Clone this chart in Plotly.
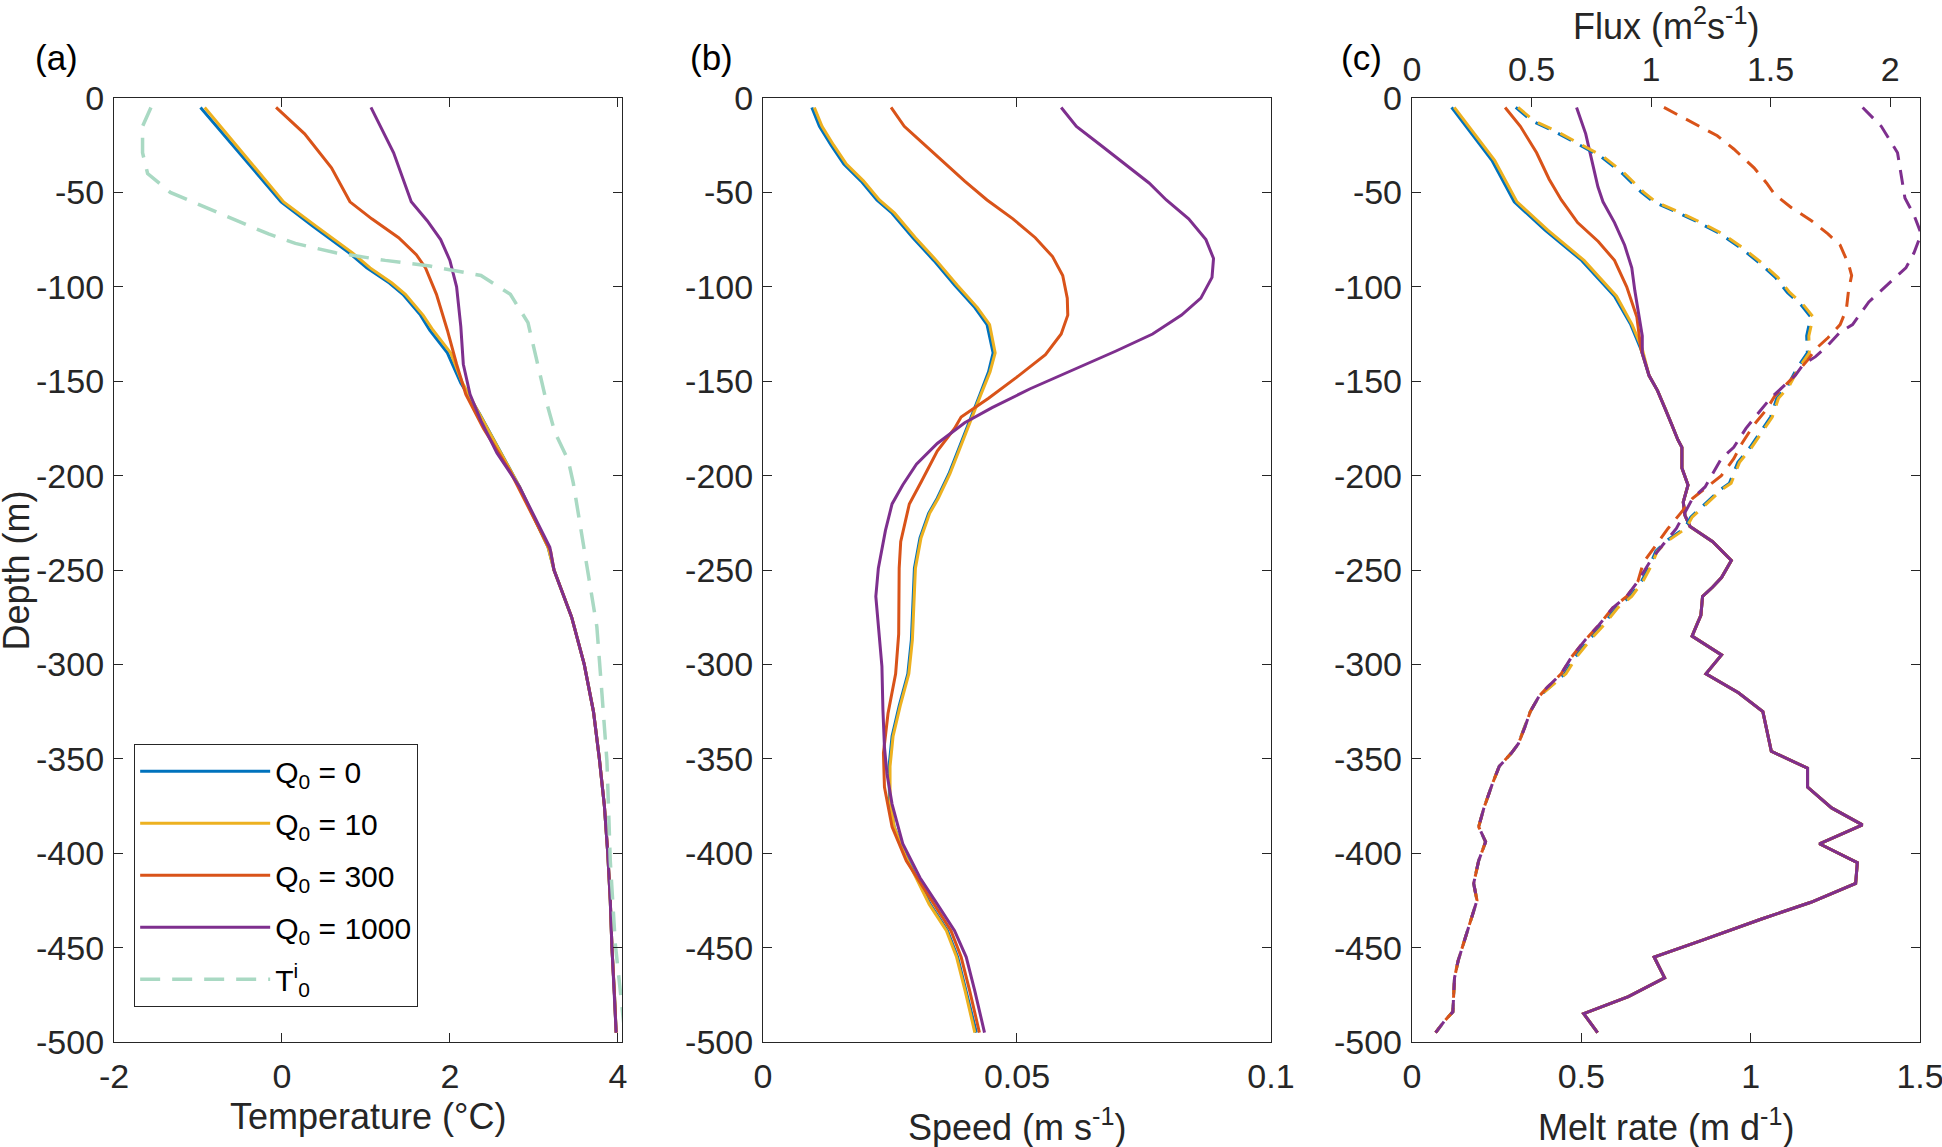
import plotly.graph_objects as go

# ---- panel (a): temperature profiles ----
temp_depth_q0 = [-5, -55, -68, -82, -90, -98, -104, -115, -123, -135, -151]
temp_q0 = [-0.97, -0.01, 0.37, 0.80, 1.01, 1.28, 1.44, 1.65, 1.76, 1.97, 2.13]
temp_q10 = [-0.92, 0.02, 0.41, 0.84, 1.05, 1.31, 1.47, 1.68, 1.80, 2.01, 2.15]

temp_depth_q300 = [-5, -19, -37, -55, -64, -74, -83, -90, -104, -123, -141, -157, -175, -198, -240]
temp_q300 = [-0.07, 0.27, 0.59, 0.81, 1.07, 1.39, 1.60, 1.71, 1.84, 1.97, 2.08, 2.19, 2.40, 2.72, 3.20]

temp_depth_q1000 = [-5, -29, -55, -65, -75, -86, -100, -121, -141, -157, -171, -188, -206, -238]
temp_q1000 = [1.06, 1.33, 1.54, 1.73, 1.89, 2.00, 2.08, 2.13, 2.16, 2.24, 2.37, 2.56, 2.83, 3.19]

# deep part shared by all four runs
temp_depth_deep = [-250, -275, -300, -325, -350, -375, -400, -425, -450, -475, -495]
temp_deep = [3.24, 3.45, 3.60, 3.71, 3.78, 3.84, 3.88, 3.91, 3.93, 3.96, 3.98]
temp_depth_mid = [-167, -184, -206, -238]
temp_mid = [2.35, 2.56, 2.83, 3.17]

t0_depth = [-5, -15, -29, -40, -50, -57, -64, -72, -77, -82, -86, -89, -94, -104, -119, -141,
            -161, -177, -192, -204, -232, -250, -280, -315, -351, -377, -404, -448, -474, -490]
t0_temp = [-1.56, -1.66, -1.66, -1.60, -1.33, -0.96, -0.59, -0.16, 0.16, 0.64, 1.23, 1.76, 2.37, 2.72, 2.93, 3.04,
           3.15, 3.25, 3.41, 3.47, 3.57, 3.64, 3.75, 3.81, 3.87, 3.89, 3.91, 3.97, 4.03, 4.07]

# ---- panel (b): speed profiles ----
speed_depth_q0 = [-5, -15, -25, -35, -44, -54, -61, -74, -86, -99, -111, -120, -135, -145, -157, -173, -187,
                  -199, -212, -220, -233, -249, -287, -305, -322, -338, -354, -372, -386, -402, -427, -441,
                  -455, -473, -495]
speed_q0 = [0.0096, 0.0111, 0.0134, 0.0159, 0.0193, 0.0224, 0.0254, 0.0295, 0.0336, 0.0377, 0.0417, 0.0441,
            0.0453, 0.0444, 0.0427, 0.0404, 0.0383, 0.0366, 0.0343, 0.0326, 0.0309, 0.0298, 0.0292, 0.0285,
            0.0268, 0.0254, 0.0248, 0.0249, 0.0258, 0.0282, 0.0329, 0.0363, 0.0383, 0.0400, 0.0420]
speed_q10 = [0.0101, 0.0116, 0.0139, 0.0164, 0.0198, 0.0229, 0.0259, 0.0300, 0.0341, 0.0382, 0.0422, 0.0446,
             0.0457, 0.0447, 0.0429, 0.0406, 0.0385, 0.0368, 0.0345, 0.0328, 0.0311, 0.0300, 0.0294, 0.0287,
             0.0270, 0.0256, 0.0250, 0.0250, 0.0258, 0.0281, 0.0327, 0.0361, 0.0381, 0.0398, 0.0417]

speed_depth_q300 = [-5, -15, -24, -34, -44, -54, -64, -74, -84, -94, -106, -115, -125, -136, -148, -159, -169,
                    -175, -187, -203, -215, -235, -249, -284, -305, -326, -347, -365, -386, -404, -427, -441,
                    -455, -473, -495]
speed_q300 = [0.0252, 0.0278, 0.0315, 0.0356, 0.0397, 0.0441, 0.0492, 0.0536, 0.0570, 0.0590, 0.0599, 0.0600,
              0.0587, 0.0556, 0.0499, 0.0444, 0.0390, 0.0377, 0.0343, 0.0312, 0.0288, 0.0271, 0.0268, 0.0267,
              0.0261, 0.0246, 0.0237, 0.0239, 0.0254, 0.0282, 0.0336, 0.0370, 0.0390, 0.0407, 0.0426]

speed_depth_q1000 = [-5, -15, -25, -36, -45, -54, -64, -75, -85, -95, -106, -115, -125, -134, -146, -154, -164,
                     -172, -183, -194, -205, -215, -229, -249, -264, -280, -301, -324, -344, -358, -374, -395,
                     -413, -427, -441, -455, -473, -495]
speed_q1000 = [0.0587, 0.0617, 0.0665, 0.0716, 0.0760, 0.0794, 0.0838, 0.0872, 0.0887, 0.0884, 0.0862, 0.0824,
               0.0767, 0.0695, 0.0594, 0.0526, 0.0451, 0.0397, 0.0343, 0.0302, 0.0275, 0.0254, 0.0241, 0.0227,
               0.0222, 0.0227, 0.0234, 0.0236, 0.0239, 0.0244, 0.0254, 0.0275, 0.0309, 0.0343, 0.0377, 0.0400,
               0.0417, 0.0436]

# ---- panel (c): melt rate (solid, bottom axis) ----
melt_depth_q0 = [-5, -33, -55, -70, -86, -105, -120, -133]
melt_q0 = [0.117, 0.236, 0.302, 0.393, 0.501, 0.598, 0.646, 0.676]
melt_q10 = [0.125, 0.244, 0.310, 0.401, 0.508, 0.604, 0.650, 0.680]
melt_depth_q300 = [-5, -15, -29, -43, -54, -66, -76, -86, -100, -116, -133]
melt_q300 = [0.275, 0.320, 0.368, 0.405, 0.441, 0.489, 0.550, 0.598, 0.634, 0.664, 0.676]
melt_depth_q1000 = [-5, -19, -33, -47, -55, -66, -78, -90, -102, -116, -126, -135]
melt_q1000 = [0.486, 0.513, 0.531, 0.549, 0.564, 0.598, 0.628, 0.649, 0.658, 0.670, 0.680, 0.680]

melt_depth_deep = [-147, -155, -165, -173, -181, -185, -196, -205, -214, -221, -227, -235, -245, -254, -259,
                   -264, -274, -278, -285, -295, -305, -315, -325, -346, -355, -365, -376, -385, -395, -405,
                   -416, -426, -435, -446, -455, -466, -476, -485, -495]
melt_deep = [0.700, 0.725, 0.749, 0.767, 0.785, 0.797, 0.797, 0.815, 0.801, 0.806, 0.821, 0.888, 0.943, 0.914,
             0.888, 0.858, 0.853, 0.843, 0.827, 0.914, 0.868, 0.964, 1.036, 1.061, 1.168, 1.168, 1.239, 1.330,
             1.203, 1.315, 1.310, 1.178, 1.030, 0.858, 0.715, 0.746, 0.639, 0.507, 0.548]

# ---- panel (c): flux (dashed, top axis) ----
flux_depth_q0 = [-5, -12, -18, -24, -31, -40, -50, -55, -60, -66, -72, -79, -87, -95, -103, -110, -116, -126,
                 -135, -143, -153, -159, -169, -177, -185, -193, -204, -207, -213, -218, -222, -228, -234, -240,
                 -248, -256, -264, -270, -279, -287, -296, -305, -312]
flux_q0 = [0.434, 0.50, 0.60, 0.69, 0.79, 0.88, 0.96, 1.01, 1.10, 1.20, 1.29, 1.37, 1.45, 1.52, 1.57, 1.63,
           1.668, 1.651, 1.654, 1.611, 1.569, 1.526, 1.50, 1.457, 1.414, 1.363, 1.328, 1.294, 1.243, 1.20,
           1.166, 1.14, 1.071, 1.02, 0.994, 0.96, 0.913, 0.855, 0.798, 0.74, 0.683, 0.639, 0.575]
flux_q10 = [0.444, 0.51, 0.61, 0.70, 0.80, 0.89, 0.97, 1.02, 1.11, 1.21, 1.30, 1.38, 1.46, 1.53, 1.58, 1.64,
            1.678, 1.660, 1.662, 1.618, 1.576, 1.533, 1.507, 1.464, 1.421, 1.370, 1.335, 1.300, 1.249, 1.206,
            1.172, 1.146, 1.077, 1.026, 1.000, 0.966, 0.919, 0.861, 0.804, 0.746, 0.689, 0.644, 0.579]

flux_depth_q300 = [-5, -13, -20, -27, -37, -45, -51, -58, -65, -72, -78, -88, -94, -102, -112, -120, -127, -133,
                   -139, -149, -158, -165, -173, -183, -191, -200, -207, -212, -220, -228, -234, -240, -246]
flux_q300 = [1.054, 1.174, 1.277, 1.346, 1.431, 1.483, 1.517, 1.586, 1.671, 1.740, 1.791, 1.826, 1.839, 1.826,
             1.817, 1.791, 1.740, 1.688, 1.654, 1.586, 1.517, 1.483, 1.431, 1.380, 1.346, 1.294, 1.226, 1.174,
             1.123, 1.071, 1.037, 1.003, 0.968]

flux_depth_q1000 = [-5, -15, -29, -41, -53, -62, -72, -82, -90, -96, -102, -108, -114, -120, -124, -131, -137,
                    -141, -147, -153, -159, -167, -175, -185, -191, -206, -212, -220, -228, -236, -244]
flux_q1000 = [1.885, 1.963, 2.031, 2.048, 2.062, 2.100, 2.130, 2.100, 2.066, 2.014, 1.963, 1.911, 1.877, 1.843,
              1.791, 1.740, 1.688, 1.637, 1.603, 1.551, 1.500, 1.448, 1.397, 1.346, 1.294, 1.226, 1.174, 1.140,
              1.106, 1.054, 1.003]

flux_depth_mid = [-256, -264, -270, -279, -287, -296, -305, -312]
flux_mid = [0.945, 0.898, 0.840, 0.783, 0.725, 0.668, 0.624, 0.567]

flux_depth_deep = [-317, -325, -333, -342, -347, -354, -363, -376, -386, -394, -404, -416, -425, -434, -445,
                   -457, -466, -475, -484, -489, -495]
flux_deep = [0.531, 0.495, 0.473, 0.445, 0.416, 0.365, 0.337, 0.301, 0.279, 0.308, 0.279, 0.258, 0.272, 0.250,
             0.222, 0.193, 0.178, 0.176, 0.171, 0.135, 0.099]

depth_ticks = [0, -50, -100, -150, -200, -250, -300, -350, -400, -450, -500]

names = ['Q<sub>0</sub> = 0', 'Q<sub>0</sub> = 10', 'Q<sub>0</sub> = 300', 'Q<sub>0</sub> = 1000']
colors = ['#0072BD', '#EDB120', '#D95319', '#7E2F8E']
t0_color = '#a9d9c3'
ink = '#262626'
font_family = 'Liberation Sans, Arial, sans-serif'
LW = 3

fig = go.Figure()

# (a)
temp_runs = [
    (temp_depth_q0 + temp_depth_mid + temp_depth_deep, temp_q0 + temp_mid + temp_deep),
    (temp_depth_q0 + temp_depth_mid + temp_depth_deep, temp_q10 + temp_mid + temp_deep),
    (temp_depth_q300 + temp_depth_deep, temp_q300 + temp_deep),
    (temp_depth_q1000 + temp_depth_deep, temp_q1000 + temp_deep),
]
for i, (d, t) in enumerate(temp_runs):
    fig.add_trace(go.Scatter(x=t, y=d, mode='lines', name=names[i], legendgroup=str(i),
                             line=dict(color=colors[i], width=LW), xaxis='x', yaxis='y'))
fig.add_trace(go.Scatter(x=t0_temp, y=t0_depth, mode='lines', name='T<sup>i</sup><sub>0</sub>',
                         legendgroup='t0', line=dict(color=t0_color, width=3.5, dash='20px,12px'),
                         xaxis='x', yaxis='y'))

# (b)
speed_runs = [(speed_depth_q0, speed_q0), (speed_depth_q0, speed_q10),
              (speed_depth_q300, speed_q300), (speed_depth_q1000, speed_q1000)]
for i, (d, s) in enumerate(speed_runs):
    fig.add_trace(go.Scatter(x=s, y=d, mode='lines', showlegend=False,
                             line=dict(color=colors[i], width=LW), xaxis='x2', yaxis='y2'))

# (c) melt rate
melt_runs = [(melt_depth_q0, melt_q0), (melt_depth_q0, melt_q10),
             (melt_depth_q300, melt_q300), (melt_depth_q1000, melt_q1000)]
for i, (d, m) in enumerate(melt_runs):
    fig.add_trace(go.Scatter(x=m + melt_deep, y=d + melt_depth_deep, mode='lines', showlegend=False,
                             line=dict(color=colors[i], width=LW), xaxis='x3', yaxis='y3'))

# (c) flux
flux_runs = [
    (flux_depth_q0 + flux_depth_deep, flux_q0 + flux_deep),
    (flux_depth_q0 + flux_depth_deep, flux_q10 + flux_deep),
    (flux_depth_q300 + flux_depth_mid + flux_depth_deep, flux_q300 + flux_mid + flux_deep),
    (flux_depth_q1000 + flux_depth_mid + flux_depth_deep, flux_q1000 + flux_mid + flux_deep),
]
for i, (d, f) in enumerate(flux_runs):
    fig.add_trace(go.Scatter(x=f, y=d, mode='lines', showlegend=False,
                             line=dict(color=colors[i], width=LW, dash='15px,10px'),
                             xaxis='x4', yaxis='y3'))


def axis(**kw):
    base = dict(showline=True, linecolor=ink, linewidth=1.3, ticks='inside', ticklen=9, tickwidth=1.3,
                tickcolor=ink, mirror='ticks', showgrid=False, zeroline=False, automargin=False,
                ticklabeloverflow='allow',
                tickfont=dict(size=34, color=ink, family=font_family))
    base.update(kw)
    return base


ytick_text = [str(v) for v in depth_ticks]
yaxis_common = dict(range=[-500, 0], tickvals=depth_ticks, ticktext=ytick_text, ticklabelstandoff=2)
label_font = dict(size=35, color='black', family=font_family)
title_font = dict(size=36, color=ink, family=font_family)


def note(text, x, y, font, angle=0):
    return dict(text=text, x=x, y=y, xref='paper', yref='paper', xanchor='center', yanchor='middle',
                showarrow=False, font=font, textangle=angle)


fig.update_layout(
    width=1942, height=1147,
    margin=dict(l=114, r=22, t=98, b=105),
    paper_bgcolor='white', plot_bgcolor='white',
    font=dict(family=font_family, color=ink),
    showlegend=True,
    legend=dict(x=0.011, y=0.037, xanchor='left', yanchor='bottom', bgcolor='white',
                bordercolor=ink, borderwidth=1.3, font=dict(size=30, color='black'),
                itemwidth=130, tracegroupgap=10, traceorder='grouped'),
    xaxis=axis(domain=[0, 0.2813], range=[-2, 4.05], tickvals=[-2, 0, 2, 4],
               ticktext=['-2', '0', '2', '4'], anchor='y', ticklabelstandoff=4),
    yaxis=axis(domain=[0, 1], anchor='x', **yaxis_common),
    xaxis2=axis(domain=[0.3594, 0.6406], range=[0, 0.1], tickvals=[0, 0.05, 0.1],
                ticktext=['0', '0.05', '0.1'], anchor='y2', ticklabelstandoff=4),
    yaxis2=axis(domain=[0, 1], anchor='x2', **yaxis_common),
    xaxis3=axis(domain=[0.7187, 1.0], range=[0, 1.5], tickvals=[0, 0.5, 1, 1.5],
                ticktext=['0', '0.5', '1', '1.5'], anchor='y3', mirror=False, ticklabelstandoff=4),
    xaxis4=axis(range=[0, 2.125], tickvals=[0, 0.5, 1, 1.5, 2], ticktext=['0', '0.5', '1', '1.5', '2'],
                overlaying='x3', side='top', anchor='y3', mirror=False, ticklabelstandoff=2),
    yaxis3=axis(domain=[0, 1], anchor='x3', **yaxis_common),
    annotations=[
        note('(a)', -0.0316, 1.043, label_font),
        note('(b)', 0.3306, 1.043, label_font),
        note('(c)', 0.6905, 1.043, label_font),
        # axis titles placed as text so their spots can be set exactly
        note('Depth (m)', -0.0540, 0.5, title_font, angle=-90),
        note('Temperature (°C)', 0.1406, -0.0785, title_font),
        note('Speed (m s<sup>-1</sup>)', 0.5, -0.0880, title_font),
        note('Melt rate (m d<sup>-1</sup>)', 0.8594, -0.0880, title_font),
        note('Flux (m<sup>2</sup>s<sup>-1</sup>)', 0.8594, 1.0784, title_font),
    ],
)

# drop the browser's default 8px page margin so the figure fills the window exactly
fig.write_html("out.html", config={'displayModeBar': False},
               post_script="document.body.style.margin='0';")
